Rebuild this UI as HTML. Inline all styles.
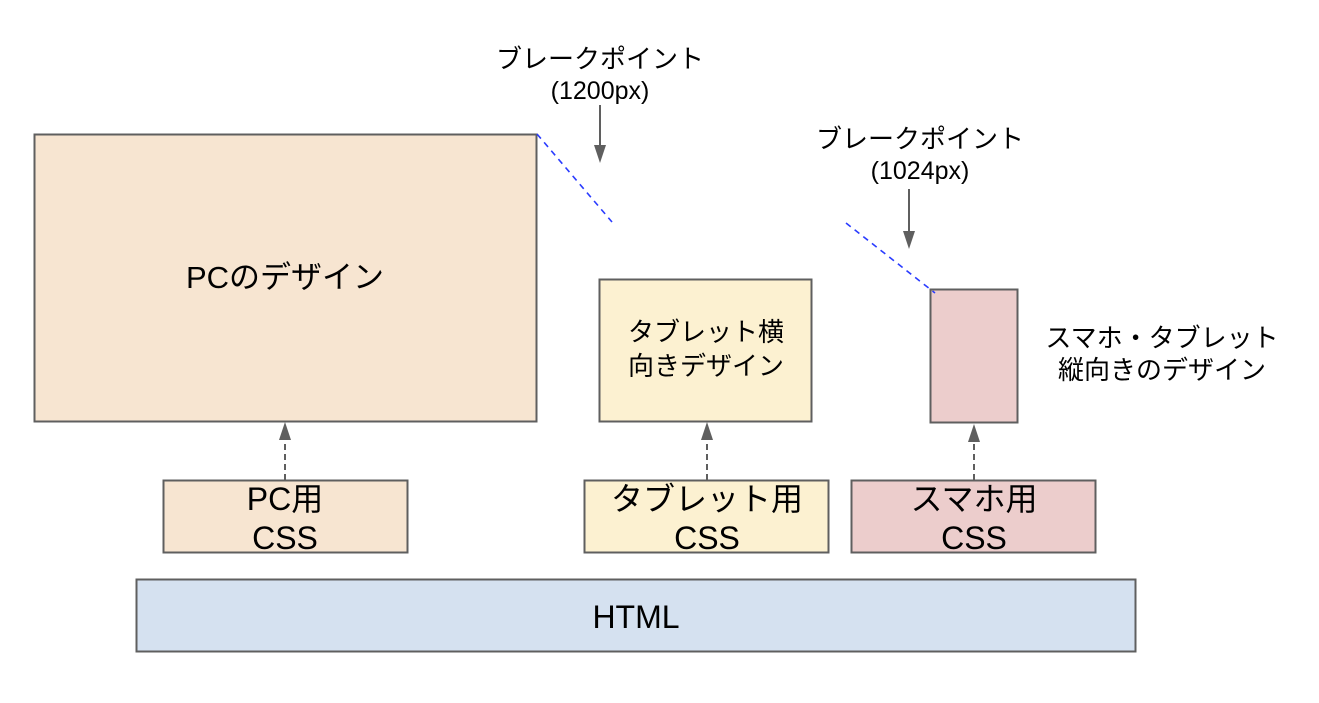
<!DOCTYPE html>
<html>
<head>
<meta charset="utf-8">
<style>
html,body{margin:0;padding:0;background:#fff;}
svg{display:block;}
text{font-family:"Liberation Sans","Noto Sans CJK JP",sans-serif;fill:#000;}
</style>
</head>
<body>
<svg width="1319" height="703" viewBox="0 0 1319 703" xmlns="http://www.w3.org/2000/svg">
  <rect x="0" y="0" width="1319" height="703" fill="#ffffff"/>

  <!-- PC design box -->
  <rect x="34.5" y="134.5" width="502" height="287" fill="#f7e5d1" stroke="#5f5f5f" stroke-width="2"/>
  <text x="285" y="288" font-size="31" text-anchor="middle">PCのデザイン</text>

  <!-- Tablet landscape box -->
  <rect x="599.5" y="279.5" width="212" height="142" fill="#fcf1d1" stroke="#5f5f5f" stroke-width="2"/>
  <text x="706" y="341" font-size="26" text-anchor="middle">タブレット横</text>
  <text x="706" y="375" font-size="26" text-anchor="middle">向きデザイン</text>

  <!-- Smartphone box -->
  <rect x="930.5" y="289.5" width="87" height="133" fill="#eccdcc" stroke="#5f5f5f" stroke-width="2"/>
  <text x="1162" y="347" font-size="26" text-anchor="middle">スマホ・タブレット</text>
  <text x="1162" y="379" font-size="26" text-anchor="middle">縦向きのデザイン</text>

  <!-- CSS boxes -->
  <rect x="163.5" y="480.5" width="244" height="72" fill="#f7e5d1" stroke="#5f5f5f" stroke-width="2"/>
  <text x="285" y="510" font-size="32" text-anchor="middle">PC用</text>
  <text x="285" y="549" font-size="32" text-anchor="middle">CSS</text>

  <rect x="584.5" y="480.5" width="244" height="72" fill="#fcf1d1" stroke="#5f5f5f" stroke-width="2"/>
  <text x="707" y="510" font-size="32" text-anchor="middle">タブレット用</text>
  <text x="707" y="549" font-size="32" text-anchor="middle">CSS</text>

  <rect x="851.5" y="480.5" width="244" height="72" fill="#eccdcc" stroke="#5f5f5f" stroke-width="2"/>
  <text x="974" y="510" font-size="32" text-anchor="middle">スマホ用</text>
  <text x="974" y="549" font-size="32" text-anchor="middle">CSS</text>

  <!-- HTML box -->
  <rect x="136.5" y="579.5" width="999" height="72" fill="#d5e1f0" stroke="#5f5f5f" stroke-width="2"/>
  <text x="636" y="628" font-size="32" text-anchor="middle">HTML</text>

  <!-- Up dashed arrows -->
  <g stroke="#5f5f5f" stroke-width="2" stroke-dasharray="6,4" fill="none">
    <line x1="285" y1="480" x2="285" y2="440"/>
    <line x1="707" y1="480" x2="707" y2="440"/>
    <line x1="974" y1="480" x2="974" y2="442"/>
  </g>
  <g fill="#5f5f5f">
    <polygon points="285,422 279,440 291,440"/>
    <polygon points="707,422 701,440 713,440"/>
    <polygon points="974,424 968,442 980,442"/>
  </g>

  <!-- Breakpoint labels -->
  <text x="600" y="68" font-size="26" text-anchor="middle">ブレークポイント</text>
  <text x="600" y="99" font-size="25" text-anchor="middle">(1200px)</text>
  <text x="920" y="148" font-size="26" text-anchor="middle">ブレークポイント</text>
  <text x="920" y="179" font-size="25" text-anchor="middle">(1024px)</text>

  <!-- Down arrows -->
  <g stroke="#5f5f5f" stroke-width="2">
    <line x1="600" y1="105" x2="600" y2="146"/>
    <line x1="909" y1="189" x2="909" y2="232"/>
  </g>
  <g fill="#5f5f5f">
    <polygon points="600,163 594,145 606,145"/>
    <polygon points="909,249 903,231 915,231"/>
  </g>

  <!-- Blue dashed lines -->
  <g stroke="#2a3cff" stroke-width="1.6" stroke-dasharray="6,5" fill="none">
    <line x1="537" y1="134" x2="612" y2="222"/>
    <line x1="846" y1="223" x2="935" y2="293"/>
  </g>
</svg>
</body>
</html>
